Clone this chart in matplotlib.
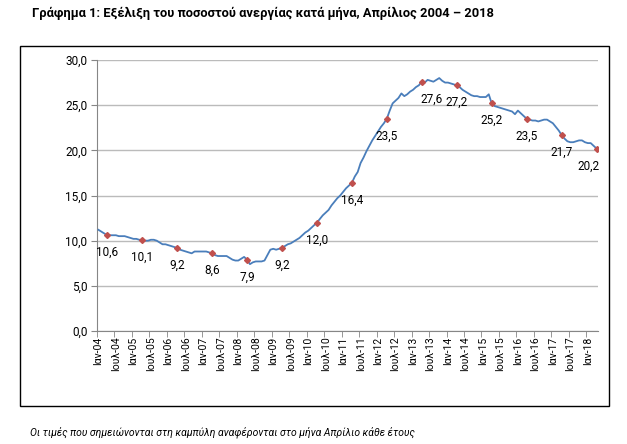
import matplotlib
matplotlib.use('Agg')
import matplotlib.pyplot as plt
from matplotlib.patches import Rectangle
import numpy as np

plt.rcParams['font.family'] = ['Roboto', 'DejaVu Sans']

# monthly unemployment rate (%), Jan 2004 - Apr 2018
rates_2004 = [11.2, 11.0, 10.8, 10.6, 10.6, 10.6, 10.6, 10.5, 10.5, 10.5, 10.4, 10.3]
rates_2005 = [10.2, 10.2, 10.1, 10.1, 10.0, 10.0, 10.1, 10.1, 10.0, 9.8, 9.6, 9.6]
rates_2006 = [9.5, 9.4, 9.3, 9.2, 9.0, 8.9, 8.8, 8.7, 8.6, 8.8, 8.8, 8.8]
rates_2007 = [8.8, 8.8, 8.7, 8.6, 8.4, 8.3, 8.3, 8.3, 8.3, 8.1, 7.9, 7.8]
rates_2008 = [7.8, 8.0, 8.2, 7.9, 7.4, 7.6, 7.7, 7.7, 7.7, 7.8, 8.4, 9.0]
rates_2009 = [9.1, 9.0, 9.1, 9.2, 9.4, 9.6, 9.7, 9.9, 10.1, 10.3, 10.6, 10.9]
rates_2010 = [11.1, 11.4, 11.7, 12.0, 12.4, 12.8, 13.1, 13.4, 13.9, 14.3, 14.7, 15.0]
rates_2011 = [15.4, 15.8, 16.1, 16.4, 17.1, 17.6, 18.6, 19.2, 19.9, 20.5, 21.1, 21.6]
rates_2012 = [22.1, 22.6, 23.0, 23.5, 24.4, 25.2, 25.5, 25.8, 26.3, 26.0, 26.2, 26.5]
rates_2013 = [26.7, 27.0, 27.2, 27.6, 27.5, 27.8, 27.7, 27.6, 27.8, 28.0, 27.7, 27.5]
rates_2014 = [27.5, 27.4, 27.3, 27.2, 27.0, 26.7, 26.5, 26.3, 26.1, 26.0, 26.0, 25.9]
rates_2015 = [25.9, 25.9, 26.2, 25.2, 24.9, 24.8, 24.7, 24.6, 24.5, 24.4, 24.3, 24.0]
rates_2016 = [24.4, 24.1, 23.8, 23.5, 23.4, 23.3, 23.3, 23.2, 23.3, 23.4, 23.4, 23.2]
rates_2017 = [23.0, 22.6, 22.2, 21.7, 21.3, 21.0, 20.9, 20.9, 21.0, 21.1, 21.1, 20.9]
rates_2018 = [20.8, 20.8, 20.5, 20.2]

rates = (rates_2004 + rates_2005 + rates_2006 + rates_2007 + rates_2008 + rates_2009
         + rates_2010 + rates_2011 + rates_2012 + rates_2013 + rates_2014 + rates_2015
         + rates_2016 + rates_2017 + rates_2018)

years = list(range(2004, 2019))
month_names = ['Ιαν', 'Ιουλ']
tick_labels = []
for y in years:
    for m in month_names:
        if y == 2018 and m == 'Ιουλ':
            continue
        tick_labels.append(f'{m}-{str(y)[2:]}')

# April of each year
april_idx = [12 * k + 3 for k in range(len(years))]

fig = plt.figure(figsize=(6.27, 4.44), dpi=100)
W, H = 627, 444

# outer frame
fig.patches.append(Rectangle((20 / W, 1 - 406 / H), 589 / W, 360 / H,
                             transform=fig.transFigure, fill=False,
                             edgecolor='black', linewidth=1.0))

ax = fig.add_axes([97 / W, 1 - 331 / H, 501 / W, 271 / H])

x = np.arange(len(rates))
ax.plot(x, rates, color='#4A7EBB', linewidth=1.3, zorder=3)
ax.plot(april_idx, [rates[i] for i in april_idx], linestyle='none', marker='D',
        markersize=3.0, color='#C0504D', zorder=4)

shift = {2013: 7, 2018: -6}
for k, i in enumerate(april_idx):
    dx = shift.get(years[k], 0)
    ax.annotate(f'{rates[i]:.1f}'.replace('.', ','), (i, rates[i]),
                xytext=(dx, -12.5), textcoords='offset points',
                ha='center', va='center', fontsize=8.5, color='black', zorder=5)

ax.set_xlim(-0.5, len(rates) - 0.5)
ax.set_ylim(0, 30)
ax.set_yticks(np.arange(0, 31, 5))
ax.set_yticklabels([f'{v:.1f}'.replace('.', ',') for v in np.arange(0, 31, 5)], fontsize=8.5)

ax.set_xticks(np.arange(0, len(rates), 6))
ax.set_xticklabels(tick_labels, rotation=90, fontsize=7.5)
ax.set_xticks(np.arange(-0.5, len(rates), 6), minor=True)
ax.tick_params(axis='x', which='major', length=0, pad=4)
ax.tick_params(axis='x', which='minor', length=4, color='#868686')
ax.tick_params(axis='y', length=4, color='#868686', pad=3)

ax.grid(axis='y', color='#BBBBBB', linewidth=1.0)
ax.set_axisbelow(True)
for s in ['top', 'right']:
    ax.spines[s].set_visible(False)
for s in ['left', 'bottom']:
    ax.spines[s].set_color('#868686')

fig.text(32 / W, 1 - 13 / H,
         'Γράφημα 1: Εξέλιξη του ποσοστού ανεργίας κατά μήνα, Απρίλιος 2004 – 2018',
         fontsize=9.3, fontweight='bold', va='center', ha='left')
fig.text(30 / W, 1 - 432 / H,
         'Οι τιμές που σημειώνονται στη καμπύλη αναφέρονται στο μήνα Απρίλιο κάθε έτους',
         fontsize=7.5, style='italic', va='center', ha='left')

fig.savefig('out.png', dpi=100)
